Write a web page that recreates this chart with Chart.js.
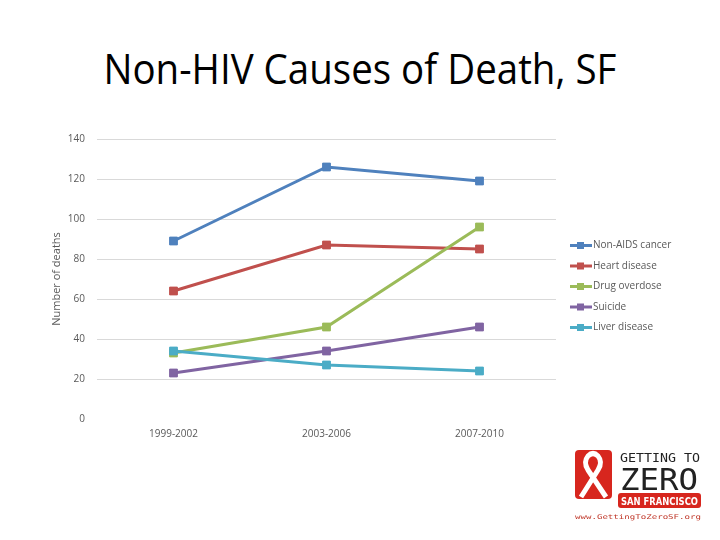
<!DOCTYPE html>
<html>
<head>
<meta charset="utf-8">
<script src="https://cdn.jsdelivr.net/npm/chart.js@4/dist/chart.umd.min.js"></script>
<style>
  html, body { margin: 0; padding: 0; background: #fff; }
  body { width: 720px; height: 540px; position: relative; overflow: hidden; }
  #title {
    position: absolute; left: 0; top: 40px; width: 720px; text-align: center;
    font-family: "Open Sans", sans-serif; font-size: 42px; line-height: 56px; color: #000;
  }
  #title span { display: inline-block; transform-origin: center; }
  #wrap { position: absolute; left: 40px; top: 121px; width: 650px; height: 330px; }
  #logo { position: absolute; left: 0; top: 0; }
</style>
</head>
<body>
<div id="title"><span>Non-HIV Causes of Death, SF</span></div>
<div id="wrap"><canvas id="myChart"></canvas></div>
<svg id="logo" width="720" height="540" viewBox="0 0 720 540">
  <rect x="575" y="450" width="37" height="49" rx="4" fill="#d7261e"/>
  <path d="M581 497 L598 470 Q603 462 598 456 Q593 451 588 456 Q583 462 588 470 L606 497" stroke="#fff" stroke-width="5" fill="none" stroke-linejoin="round"/>
  <text x="620" y="462" font-family="DejaVu Sans Mono, monospace" font-size="13" fill="#222" textLength="80" lengthAdjust="spacingAndGlyphs">GETTING TO</text>
  <text x="620" y="490" font-family="DejaVu Sans Mono, monospace" font-size="31" fill="#222" textLength="78" lengthAdjust="spacingAndGlyphs">ZERO</text>
  <rect x="618" y="493" width="83" height="15" rx="3" fill="#d7261e"/>
  <text x="621" y="505" font-family="DejaVu Sans Condensed, DejaVu Sans, sans-serif" font-weight="bold" font-size="11" fill="#fff" textLength="77" lengthAdjust="spacingAndGlyphs">SAN FRANCISCO</text>
  <text x="575" y="519" font-family="DejaVu Sans Mono, monospace" font-size="6.5" fill="#c0392b" textLength="126" lengthAdjust="spacingAndGlyphs">www.GettingToZeroSF.org</text>
</svg>
<script>
const categories = ["1999-2002", "2003-2006", "2007-2010"];
const seriesNames = ["Non-AIDS cancer", "Heart disease", "Drug overdose", "Suicide", "Liver disease"];
const cancer = [89, 126, 119];
const heart = [64, 87, 85];
const overdose = [33, 46, 96];
const suicide = [23, 34, 46];
const liver = [34, 27, 24];
const yMax = 140;
const yStep = 20;

const colores = ["#4F81BD", "#C0504D", "#9BBB59", "#8064A2", "#4BACC6"];
const valores = [cancer, heart, overdose, suicide, liver];

// fit the slide title to the width it has in the slide
const tituloSpan = document.querySelector("#title span");
const anchoTitulo = tituloSpan.getBoundingClientRect().width;
tituloSpan.style.transform = `scaleX(${513 / anchoTitulo})`;

const datasets = valores.map((serie, i) => {
  return {
    label: seriesNames[i],
    data: serie,
    borderColor: colores[i],
    backgroundColor: colores[i],
    borderWidth: 3,
    pointStyle: "rect",
    pointRadius: 5.5,
    pointBorderWidth: 1,
    tension: 0,
    order: valores.length - i,
  };
});

// legend on the right side, like the Excel one
const leyendaLateral = {
  id: "leyendaLateral",
  afterDraw(chart) {
    const ctx = chart.ctx;
    ctx.save();
    chart.data.datasets.forEach((ds, i) => {
      const y = 124.5 + i * 20.5;
      ctx.strokeStyle = ds.borderColor;
      ctx.lineWidth = 3;
      ctx.beginPath();
      ctx.moveTo(530, y);
      ctx.lineTo(552, y);
      ctx.stroke();
      ctx.fillStyle = ds.borderColor;
      ctx.fillRect(537, y - 3.5, 7, 7);
      ctx.fillStyle = "#595959";
      ctx.font = '10px "Open Sans"';
      ctx.textBaseline = "middle";
      ctx.fillText(ds.label, 553, y);
    });
    ctx.restore();
  },
};

const config = {
  type: "line",
  data: { labels: categories, datasets },
  options: {
    responsive: true,
    maintainAspectRatio: false,
    animation: false,
    layout: { padding: { left: 6, right: 134, top: 9, bottom: 0 } },
    plugins: { legend: { display: false }, tooltip: { enabled: false } },
    scales: {
      x: {
        offset: true,
        grid: { display: false, drawTicks: false },
        border: { display: false },
        ticks: { color: "#595959", font: { family: "Open Sans", size: 10 }, padding: 9 },
        afterFit: (scale) => { scale.height = 32; },
      },
      y: {
        min: 0,
        max: yMax,
        grid: {
          drawTicks: false,
          color: (c) => (c.tick && c.tick.value === 0 ? "rgba(0,0,0,0)" : "#d9d9d9"),
        },
        border: { display: false },
        ticks: { stepSize: yStep, color: "#595959", font: { family: "Open Sans", size: 10 }, padding: 12 },
        title: {
          display: true,
          text: "Number of deaths",
          color: "#595959",
          font: { family: "Open Sans", size: 11 },
          padding: { top: 4, bottom: 0 },
        },
        afterFit: (scale) => { scale.width = 51; },
      },
    },
  },
  plugins: [leyendaLateral],
};

const myChart = document.querySelector("#myChart");
new Chart(myChart, config);
</script>
</body>
</html>
